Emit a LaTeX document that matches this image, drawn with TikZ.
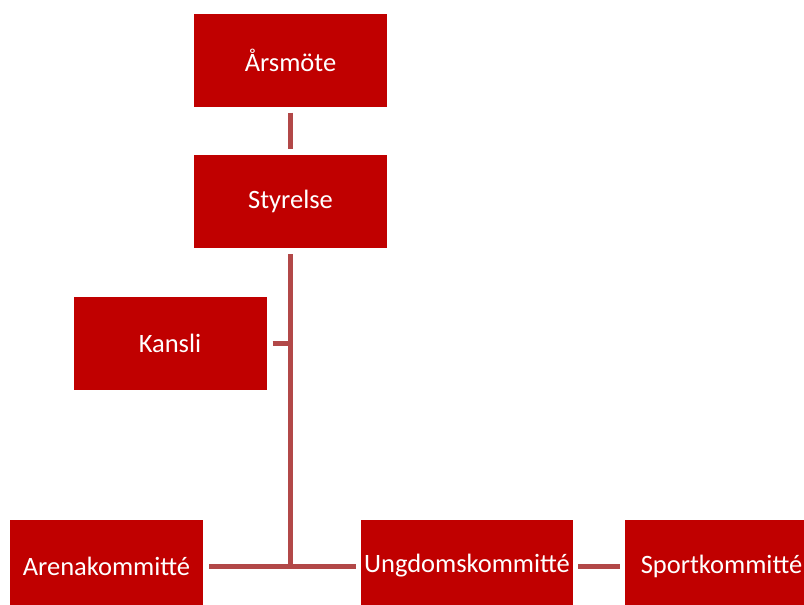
\documentclass[tikz,border=0pt]{standalone}
\usepackage{fontspec}
\setmainfont{Carlito}
\definecolor{boxred}{HTML}{C00000}
\definecolor{linkred}{HTML}{B24848}
\tikzset{
  orgbox/.style={fill=boxred, text=white, minimum width=193pt, minimum height=93pt,
    inner sep=0pt, font=\fontsize{26.5}{30}\selectfont},
  orglink/.style={draw=linkred, line width=5pt}
}

\begin{document}
\begin{tikzpicture}[x=1pt,y=-1pt]
	\useasboundingbox (0,0) rectangle (804,605);
	% boxes
	\node[orgbox] (arsmote) at (290.5,60) {Årsmöte};
	\node[orgbox] (styrelse) at (290.5,201.5) {Styrelse};
	\node[orgbox] (kansli) at (170,343) {Kansli};
	\node[orgbox] (arena) at (106.5,566) {Arenakommitté};
	\node[orgbox, minimum width=212pt] (ungdom) at (467,566) {Ungdomskommitté};
	\node[orgbox] (sport) at (721.5,566) {Sportkommitté};
	\coordinate (junction) at (styrelse.south |- arena.east);
	% links
	\draw[orglink, shorten <=6pt, shorten >=6pt] (arsmote) -- (styrelse);
	\draw[orglink, shorten <=6pt] (styrelse.south) -- ([yshift=-2.5pt]junction);
	\draw[orglink, shorten <=6pt] (kansli.east) -- (kansli.east -| junction);
	\draw[orglink, shorten <=6pt, shorten >=5pt] (arena.east) -- (ungdom.west);
	\draw[orglink, shorten <=5pt, shorten >=5pt] (ungdom.east) -- (sport.west);
\end{tikzpicture}
\end{document}
